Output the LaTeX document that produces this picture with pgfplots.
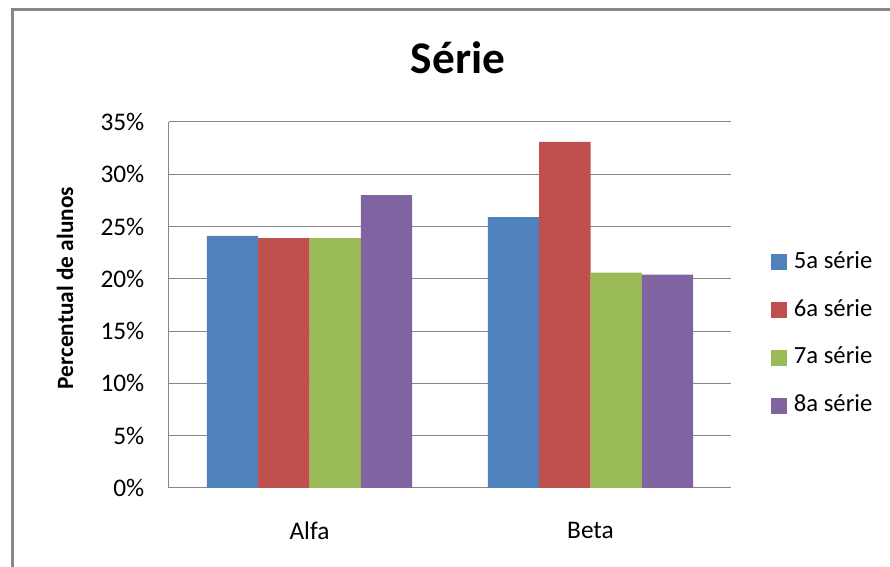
\documentclass[border=0pt]{standalone}
\usepackage{fontspec}
\setmainfont{Carlito}
\usepackage{pgfplots}
\pgfplotsset{compat=1.18}
\definecolor{c1}{HTML}{4F81BD}
\definecolor{c2}{HTML}{C0504D}
\definecolor{c3}{HTML}{9BBB59}
\definecolor{c4}{HTML}{8064A2}
\definecolor{gridgray}{HTML}{868686}
\definecolor{framegray}{HTML}{878787}
\begin{document}
\begin{tikzpicture}
\useasboundingbox (0pt,0pt) rectangle (667.5pt,425.25pt);
\draw[line width=2.25pt, color=framegray] (9pt,-20pt) rectangle (700pt,417.75pt);
\begin{axis}[
  at={(126.75pt,59.25pt)}, anchor=south west,
  scale only axis, width=421.5pt, height=274.5pt,
  xmin=-0.5, xmax=1.5, ymin=0, ymax=35,
  ybar=0pt, bar width=0.1824,
  xtick={0,1}, xticklabels={Alfa,Beta},
  ytick={0,5,10,15,20,25,30,35},
  yticklabels={0\%,5\%,10\%,15\%,20\%,25\%,30\%,35\%},
  axis x line*=bottom, axis y line*=left,
  ymajorgrids, grid style={color=gridgray, line width=0.75pt},
  axis line style={color=gridgray, line width=0.75pt},
  x tick style={draw=none},
  y tick style={color=gridgray, line width=0.75pt},
  major tick length=4pt,
  tick label style={font=\fontsize{19}{22}\selectfont},
  yticklabel style={xshift=-15pt},
  xticklabel style={yshift=-18pt},
  title={\textbf{Série}},
  title style={at={(rel axis cs:0.5,1)}, xshift=6pt, yshift=42pt, anchor=center, font=\fontsize{34}{40}\selectfont},
  ylabel={\textbf{Percentual de alunos}},
  every axis y label/.style={at={(rel axis cs:0,0.546)}, xshift=-78pt, rotate=90, anchor=center, font=\fontsize{17.5}{20}\selectfont},
  legend style={at={(rel axis cs:1.0712,0.4208)}, anchor=west, draw=none, fill=none,
    inner sep=0pt, row sep=20.8pt, font=\fontsize{18.5}{22}\selectfont,
    nodes={inner sep=0pt, text height=12pt, text depth=3pt},
    /tikz/every odd column/.append style={column sep=5pt}},
  legend cell align=left,
  legend image code/.code={\fill[#1] (0pt,-6pt) rectangle (12pt,6pt);},
]
\addplot[fill=c1, draw=none] coordinates {(0,24.1) (1,25.9)};
\addplot[fill=c2, draw=none] coordinates {(0,23.9) (1,33.1)};
\addplot[fill=c3, draw=none] coordinates {(0,23.9) (1,20.6)};
\addplot[fill=c4, draw=none] coordinates {(0,28.0) (1,20.4)};
\legend{5a série,6a série,7a série,8a série}
\end{axis}
\end{tikzpicture}
\end{document}
